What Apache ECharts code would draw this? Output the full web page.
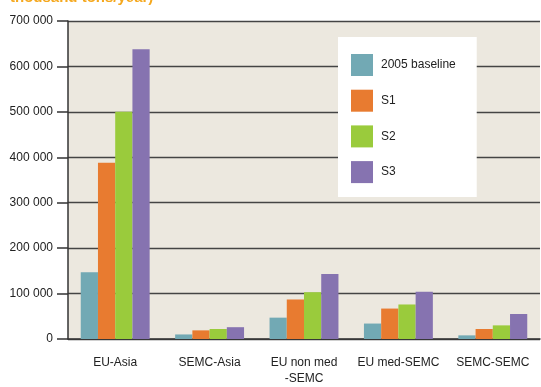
<!DOCTYPE html>
<html>
<head>
<meta charset="utf-8">
<script src="https://cdn.jsdelivr.net/npm/echarts@6/dist/echarts.min.js"></script>
<style>
  html, body { margin: 0; padding: 0; background: #fff; }
  #chart { width: 541px; height: 387px; }
</style>
</head>
<body>
<div id="chart"></div>
<script>
var categories = ['EU-Asia', 'SEMC-Asia', 'EU non med\n-SEMC', 'EU med-SEMC', 'SEMC-SEMC'];
var baseline2005 = [147000, 10000, 47000, 34000, 8000];
var s1 = [388000, 19000, 87000, 67000, 22000];
var s2 = [500000, 22000, 103000, 76000, 30000];
var s3 = [638000, 26000, 143000, 104000, 55000];
var yTicks = [0, 100000, 200000, 300000, 400000, 500000, 600000, 700000];

var colors = ['#72a9b4', '#e87b30', '#9acb3c', '#8673b0'];

function fmt(v) {
    if (v === 0) return '0';
    var s = String(v);
    return s.slice(0, s.length - 3) + ' ' + s.slice(-3);
}

var chart = echarts.init(document.getElementById('chart'));

function bar(name, data) {
    return {
        name: name,
        type: 'bar',
        data: data,
        barGap: '0%',
        barCategoryGap: '27%'
    };
}

var option = {
    animation: false,
    color: colors,
    textStyle: { fontFamily: 'Liberation Sans' },
    graphic: [{
        type: 'text',
        left: 10,
        top: -10,
        style: { text: 'thousand tons/year)', fill: '#f5a81e', font: 'bold 15px "Liberation Sans"' }
    }],
    legend: {
        orient: 'vertical',
        left: 338,
        top: 37,
        backgroundColor: '#ffffff',
        padding: [17, 21, 14, 13],
        itemWidth: 22,
        itemHeight: 22,
        itemGap: 13.7,
        icon: 'rect',
        textStyle: { fontSize: 12, color: '#222', padding: [0, 0, 0, 3] },
        data: ['2005 baseline', 'S1', 'S2', 'S3']
    },
    grid: {
        left: 68,
        right: 1,
        top: 21,
        bottom: 44,
        show: true,
        backgroundColor: '#ece8df',
        borderWidth: 0
    },
    xAxis: {
        type: 'category',
        data: categories,
        axisLine: { lineStyle: { color: '#333', width: 1.5 } },
        axisTick: { length: 11, lineStyle: { color: '#333', width: 1.5 } },
        axisLabel: { fontSize: 12, color: '#222', margin: 16, lineHeight: 16, interval: 0 }
    },
    yAxis: {
        type: 'value',
        min: yTicks[0],
        max: yTicks[yTicks.length - 1],
        interval: 100000,
        axisLine: { show: true, lineStyle: { color: '#333', width: 1.5 } },
        axisTick: { show: true, length: 11, lineStyle: { color: '#333', width: 1.5 } },
        axisLabel: { fontSize: 12, color: '#222', margin: 15, formatter: fmt },
        splitLine: { lineStyle: { color: '#444', width: 1.3 } }
    },
    series: [
        bar('2005 baseline', baseline2005),
        bar('S1', s1),
        bar('S2', s2),
        bar('S3', s3)
    ]
};

chart.setOption(option);
</script>
</body>
</html>
